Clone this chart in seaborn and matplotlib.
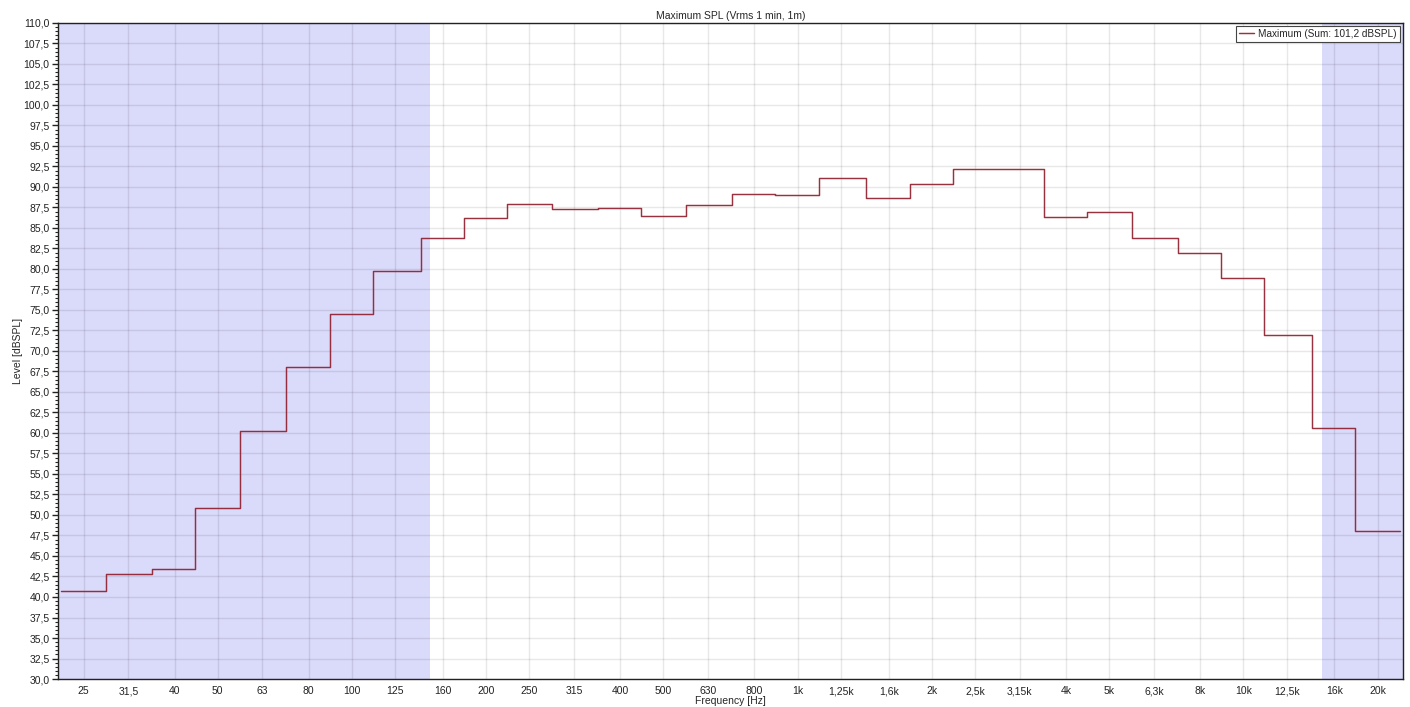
import matplotlib
matplotlib.use("Agg")
import matplotlib.pyplot as plt
from matplotlib.ticker import MultipleLocator, NullLocator, FuncFormatter
import pandas as pd
import seaborn as sns

# 1/3 octave bands
band_freqs = [25, 31.5, 40, 50, 63, 80, 100, 125, 160, 200, 250, 315, 400, 500, 630,
              800, 1000, 1250, 1600, 2000, 2500, 3150, 4000, 5000, 6300, 8000, 10000,
              12500, 16000, 20000]
band_labels = ['25', '31,5', '40', '50', '63', '80', '100', '125', '160', '200', '250',
               '315', '400', '500', '630', '800', '1k', '1,25k', '1,6k', '2k', '2,5k',
               '3,15k', '4k', '5k', '6,3k', '8k', '10k', '12,5k', '16k', '20k']
max_level = [40.7, 42.8, 43.4, 50.8, 60.3, 68.1, 74.5, 79.8, 83.8, 86.2, 87.9, 87.3,
             87.4, 86.5, 87.8, 89.2, 89.0, 91.1, 88.7, 90.4, 92.2, 92.2, 86.3, 87.0,
             83.8, 81.9, 78.9, 72.0, 60.6, 48.0]

# bereiche ausserhalb des nutzbereichs
low_limit = 150
high_limit = 15000

sns.set_theme(style="white")
plt.rcParams['font.family'] = ['Liberation Sans', 'DejaVu Sans']
plt.rcParams['font.size'] = 7.5

# stufen: jedes band von unterer bis oberer bandgrenze
half = 10 ** 0.05
df = pd.DataFrame({
    'f': [f / half for f in band_freqs] + [band_freqs[-1] * half],
    'level': max_level + [max_level[-1]],
})

fig = plt.figure(figsize=(14.1, 7.07), dpi=100)
ax = fig.add_axes([0.0411, 0.0396, 0.9539, 0.9279])
ax.set_xscale('log')
x_lo, x_hi = 21.9, 22800

ax.axvspan(x_lo, low_limit, color='#dadafb', zorder=0.2, lw=0)
ax.axvspan(high_limit, x_hi, color='#dadafb', zorder=0.2, lw=0)

sns.lineplot(data=df, x='f', y='level', drawstyle='steps-post', color='#8e1c2a',
             lw=1.05, alpha=0.9, label='Maximum (Sum: 101,2 dBSPL)', ax=ax)

ax.set_xlim(x_lo, x_hi)
ax.set_ylim(30, 110)
ax.xaxis.set_minor_locator(NullLocator())
ax.set_xticks(band_freqs, labels=band_labels)
ax.yaxis.set_major_locator(MultipleLocator(2.5))
ax.yaxis.set_minor_locator(MultipleLocator(0.5))
ax.yaxis.set_major_formatter(FuncFormatter(lambda v, p: f"{v:.1f}".replace('.', ',')))

ax.tick_params(axis='x', length=0, pad=10.8, labelsize=7.5, colors='#222222')
ax.tick_params(axis='y', which='major', direction='out', length=4, width=1,
               left=True, pad=2, labelsize=7.5, colors='#222222')
ax.tick_params(axis='y', which='minor', direction='out', length=2, width=0.8, left=True)

ax.grid(True, which='major', color='black', alpha=0.09, lw=1)
ax.set_axisbelow(True)
for s in ax.spines.values():
    s.set_color('#222222')
    s.set_linewidth(1)

ax.set_title('Maximum SPL (Vrms 1 min, 1m)', fontsize=7.5, pad=3)
ax.set_xlabel('Frequency [Hz]', fontsize=7.5)
ax.xaxis.set_label_coords(0.5, -0.026)
ax.set_ylabel('Level [dBSPL]', fontsize=7.5)
ax.yaxis.set_label_coords(-0.026, 0.5)

leg = ax.legend(loc='upper right', fancybox=False, framealpha=1, edgecolor='#444444',
                fontsize=7.2, handlelength=1.5, borderpad=0.3, borderaxespad=0.3,
                handletextpad=0.4)
leg.get_frame().set_linewidth(0.8)

# labels mit komma nicht tiefer setzen
fig.canvas.draw()
for t in ax.xaxis.get_ticklabels():
    t.set_verticalalignment('baseline')

fig.savefig('out.png', dpi=100)
